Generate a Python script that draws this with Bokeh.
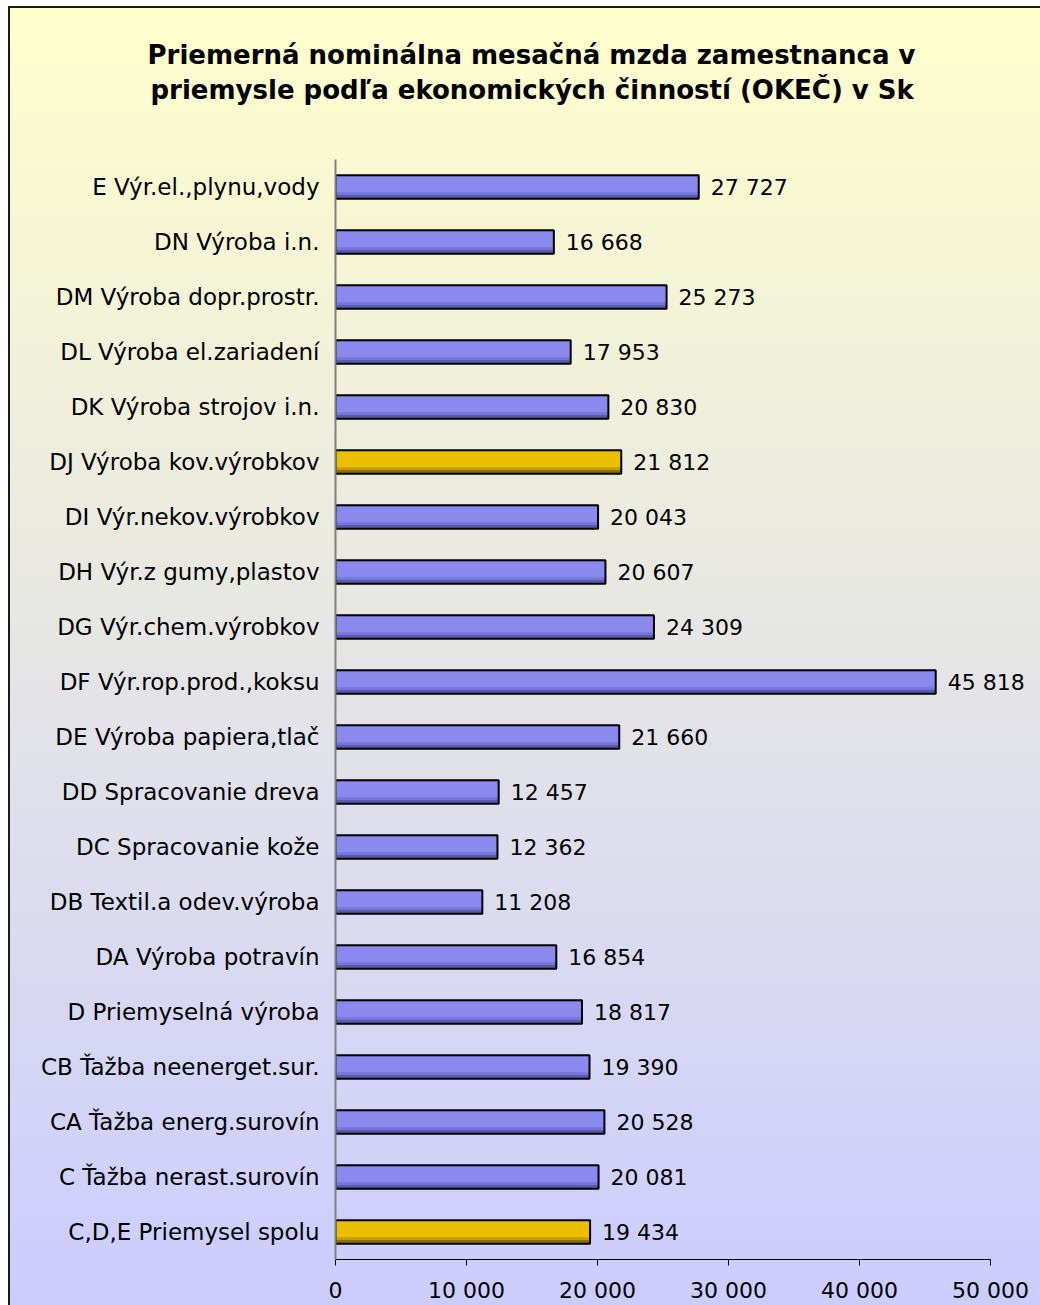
from bokeh.plotting import figure
from bokeh.models import Range1d, FactorRange, FixedTicker, Title, LabelSet, ColumnDataSource
from bokeh.transform import dodge
from bokeh.core.properties import value
from bokeh.embed import file_html
from bokeh.resources import INLINE

# ---------------- data ----------------
title_lines = [
    "Priemerná nominálna mesačná mzda zamestnanca v",
    "priemysle podľa ekonomických činností (OKEČ) v Sk",
]

categories = [
    "E Výr.el.,plynu,vody",
    "DN Výroba i.n.",
    "DM Výroba dopr.prostr.",
    "DL Výroba el.zariadení",
    "DK Výroba strojov i.n.",
    "DJ Výroba kov.výrobkov",
    "DI Výr.nekov.výrobkov",
    "DH Výr.z gumy,plastov",
    "DG Výr.chem.výrobkov",
    "DF Výr.rop.prod.,koksu",
    "DE Výroba papiera,tlač",
    "DD Spracovanie dreva",
    "DC Spracovanie kože",
    "DB Textil.a odev.výroba",
    "DA Výroba potravín",
    "D Priemyselná výroba",
    "CB Ťažba neenerget.sur.",
    "CA Ťažba energ.surovín",
    "C Ťažba nerast.surovín",
    "C,D,E Priemysel spolu",
]

wages = [27727, 16668, 25273, 17953, 20830, 21812, 20043, 20607, 24309, 45818,
         21660, 12457, 12362, 11208, 16854, 18817, 19390, 20528, 20081, 19434]

highlighted = ["DJ Výroba kov.výrobkov", "C,D,E Priemysel spolu"]

x_ticks = [0, 10000, 20000, 30000, 40000, 50000]
x_tick_labels = ["0", "10 000", "20 000", "30 000", "40 000", "50 000"]

# ---------------- layout / styling ----------------
FONT = "DejaVu Sans"
BLUE = ("#5a5ab0", "#7676da", "#8a8aee")
GOLD = ("#8c7000", "#c49e00", "#ecc000")

W, H = 1040, 1305
FRAME_L, FRAME_T, FRAME_B = 335, 159, 1261
AXIS_END_PX = 990          # pixel where the axis maximum sits
X_MAX = x_ticks[-1]
x_end = X_MAX * (W - FRAME_L) / (AXIS_END_PX - FRAME_L)


def fmt(v):
    return f"{v:,}".replace(",", " ")


is_hl = [c in highlighted for c in categories]
src = ColumnDataSource(dict(
    cat=categories,
    wage=wages,
    label=[fmt(v) for v in wages],
    c_dark=[GOLD[0] if h else BLUE[0] for h in is_hl],
    c_mid=[GOLD[1] if h else BLUE[1] for h in is_hl],
    c_main=[GOLD[2] if h else BLUE[2] for h in is_hl],
))

p = figure(
    width=W, height=H,
    y_range=FactorRange(factors=categories[::-1]),
    x_range=Range1d(0, x_end),
    output_backend="svg", toolbar_location=None, title=None,
    min_border_left=FRAME_L, min_border_right=0,
    min_border_top=FRAME_T, min_border_bottom=H - FRAME_B,
)
p.border_fill_color = None
p.background_fill_color = None
p.outline_line_color = None
p.styles = {
    "background": "linear-gradient(to bottom, #FFFFCC 0%, #CCCCFF 100%)",
    "box-shadow": "inset 8px 6px 0 #ffffff, inset 10px 8px 0 #1a1a1a",
}
p.xgrid.visible = False
p.ygrid.visible = False

BAR_H = 0.43
p.hbar(y="cat", left=0, right="wage", height=BAR_H, source=src,
       fill_color="c_dark", line_color=None)
p.hbar(y=dodge("cat", 0.035, range=p.y_range), left=0, right="wage", height=0.36,
       source=src, fill_color="c_mid", line_color=None)
p.hbar(y=dodge("cat", 0.05, range=p.y_range), left=0, right="wage", height=0.29,
       source=src, fill_color="c_main", line_color=None)
p.hbar(y="cat", left=0, right="wage", height=BAR_H, source=src,
       fill_color=None, line_color="black", line_width=2)

p.add_layout(LabelSet(x="wage", y="cat", text="label", source=src,
                      x_offset=12, text_align="left", text_baseline="middle",
                      text_font=value(FONT), text_font_size="22px",
                      text_color="black"))

# title: panels stack upward from the frame -> spacer, line 2, line 1
p.add_layout(Title(text=" ", standoff=21, text_font=FONT,
                   text_font_size="26px"), "above")
for line, off in [(title_lines[1], 150 - FRAME_L),
                  (title_lines[0], 147 - FRAME_L)]:
    p.add_layout(Title(text=line, align="left", offset=off, standoff=3,
                       text_font=FONT, text_font_size="26px",
                       text_font_style="bold", text_color="black"), "above")

xa = p.xaxis[0]
xa.ticker = FixedTicker(ticks=x_ticks)
xa.bounds = (0, X_MAX)
xa.major_label_overrides = dict(zip(x_ticks, x_tick_labels))
xa.minor_tick_line_color = None
xa.major_tick_in = 0
xa.major_tick_out = 6
xa.axis_line_color = "black"
xa.major_tick_line_color = "black"
xa.major_label_standoff = 12
xa.major_label_text_font = FONT
xa.major_label_text_font_size = "22px"
xa.major_label_text_color = "black"

ya = p.yaxis[0]
ya.axis_line_color = "#808080"
ya.axis_line_width = 2
ya.major_tick_in = 0
ya.major_tick_out = 0
ya.minor_tick_line_color = None
ya.major_label_standoff = 16
ya.major_label_text_font = FONT
ya.major_label_text_font_size = "23px"
ya.major_label_text_color = "black"

open("out.html", "w").write(file_html(p, INLINE))
